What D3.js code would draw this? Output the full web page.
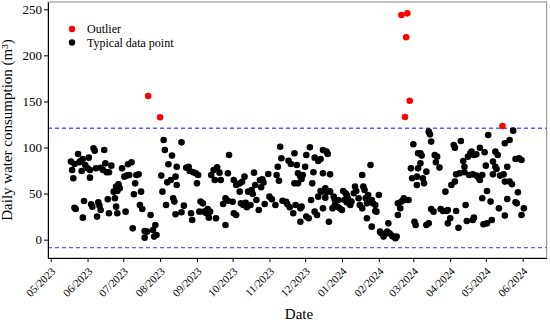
<!DOCTYPE html>
<html><head><meta charset="utf-8">
<script src="https://cdn.jsdelivr.net/npm/d3@7"></script>
<style>body{margin:0;background:#fff}svg{display:block}svg text{font-family:"Liberation Serif","Times New Roman",serif}</style>
</head><body><svg id="c" width="550" height="323"></svg>
<script>
// ---- data (days counted from startDate, daily consumption in m³) ----
const startDate = "2023-05-01";
const tickMonths = ["2023-05-01","2023-06-01","2023-07-01","2023-08-01","2023-09-01","2023-10-01","2023-11-01",
  "2023-12-01","2024-01-01","2024-02-01","2024-03-01","2024-04-01","2024-05-01","2024-06-01"];
const yTicks = [0, 50, 100, 150, 200, 250];
const thresholds = [120.9, -8.7];
const legendLabels = ["Outlier", "Typical data point"];
const xTitle = "Date";
const yTitle = "Daily water consumption (m³)";

const typicalDays = [
17,20,18,19,23,24,25,27,26,29,
32,31,33,33,36,37,45,38,42,46,
44,47,49,51,60,65,68,64,62,66,
72,74,71,70,76,57,55,53,56,58,
20,21,27,28,34,35,40,41,42,39,
48,49,54,55,56,63,75,77,69,84,
79,81,86,88,89,87,79,95,96,102,
99,106,93,98,101,105,94,97,103,104,
105,
110,114,116,117,120,122,124,106,123,112,
110,118,119,125,126,128,129,131,133,132,
135,137,140,142,138,143,134,139,147,149,
150,147,145,149,153,154,156,154,156,159,
161,163,159,160,162,164,165,168,166,169,
170,172,171,173,175,176,178,179,177,180,
183,184,186,189,190,191,192,193,194,195,
198,199,200,202,201,204,205,
205,207,208,210,211,212,208,206,210,211,
210,215,217,215,214,218,222,225,227,229,
232,233,221,229,235,220,222,224,227,228,
229,234,231,232,234,235,219,225,231,238,
239,239,237,241,242,243,245,246,248,249,
247,249,250,252,253,255,256,257,259,260,
262,263,264,265,266,267,269,262,270,271,
273,274,276,266,270,273,277,278,281,283,
284,285,287,288,290,291,280,292,294,292,
295,298,301,297,305,309,303,304,308,306,
307,
318,319,320,311,312,311,309,308,313,314,
316,323,325,324,327,339,340,345,344,341,
340,337,332,347,348,348,351,353,354,356,
358,361,365,355,352,358,360,363,361,366,
368,367,363,370,374,376,372,374,375,378,
372,381,382,384,386,388,382,386,389,391,
394,396,393,384,391,392,398,396,382,377,
320,322,328,330,333,334,336,341,343,334,
349,350,356,355,364,367,371,318,316];

const typicalValues = [
84.7,82.1,75.6,66.6,93.0,84.0,85.4,87.6,74.5,81.0,
89.0,77.4,75.6,67.3,99.1,96.6,97.3,77.4,78.1,82.8,
75.6,73.1,73.1,80.3,77.4,81.8,84.0,69.5,68.4,70.2,
70.2,70.9,61.1,49.2,52.1,60.0,57.5,52.1,52.8,55.7,
34.7,33.3,23.9,42.0,38.4,35.8,40.5,36.9,32.2,25.0,
43.8,28.6,44.9,35.8,28.6,30.4,37.6,33.3,12.3,26.8,
9.4,8.7,10.5,15.9,5.1,3.3,2.2,108.2,97.3,91.2,
81.8,79.2,69.5,62.2,64.8,68.4,52.1,37.6,44.9,41.3,
27.5,
105.6,78.1,79.2,74.5,73.1,72.0,70.2,59.3,61.1,36.9,
29.7,28.6,21.4,30.4,41.3,39.4,30.4,28.6,23.9,33.3,
70.2,75.6,78.5,72.7,64.7,64.7,30.4,23.1,15.9,72.0,
91.9,44.9,38.7,42.3,41.2,28.6,26.8,64.7,59.3,61.1,
62.9,68.4,52.1,39.4,37.6,40.1,35.1,37.6,52.1,53.9,
49.6,59.3,72.7,43.0,32.2,64.7,65.5,61.9,56.8,38.7,
71.3,46.7,43.8,37.6,70.2,79.2,64.0,100.9,88.3,42.3,
41.2,38.7,85.7,82.1,35.1,28.6,61.1,
93.7,81.0,72.0,68.4,65.9,70.2,61.1,37.6,34.0,35.8,
19.5,25.0,23.2,91.9,79.2,100.2,89.0,85.4,87.6,97.3,
95.5,93.0,73.1,72.0,70.9,61.1,30.4,26.8,52.8,52.1,
34.0,19.5,55.7,52.1,52.8,52.1,43.1,46.7,45.6,46.7,
43.1,37.6,34.0,35.8,43.1,34.0,32.2,52.8,50.3,48.5,
43.1,40.5,44.9,37.6,41.3,50.3,57.5,52.8,44.9,37.6,
34.0,57.5,53.9,44.9,39.4,48.5,81.0,70.2,43.1,39.4,
37.6,30.4,48.5,23.2,14.1,31.1,8.7,6.9,5.8,8.7,
17.7,6.9,4.4,3.3,1.5,3.3,3.3,39.4,34.0,26.8,
41.3,43.1,43.1,44.9,103.5,93.7,77.4,66.6,59.3,19.5,
15.9,
117.2,114.3,106.4,93.7,91.2,82.8,77.4,68.4,66.6,61.1,
73.8,91.9,90.1,84.0,78.2,102.7,99.8,107.1,72.0,70.9,
63.0,59.3,52.1,85.4,79.2,73.1,90.1,93.7,95.5,91.9,
92.6,99.8,94.8,70.9,70.2,69.5,67.3,70.2,64.8,80.3,
113.6,52.8,44.9,41.3,95.5,91.9,84.7,79.2,76.7,69.5,
70.9,70.9,63.0,79.2,63.0,60.1,104.6,108.2,118.3,87.6,
88.3,86.5,51.4,44.2,40.5,39.4,34.0,26.8,26.1,34.0,
33.3,30.4,33.3,31.1,31.1,32.2,23.2,31.1,13.0,17.7,
37.6,20.3,23.9,21.4,16.7,17.7,21.4,17.7,15.9];

const outlierDays = [82, 92, 295, 300, 299, 302, 298, 380];
const outlierValues = [155.9, 132.8, 243.8, 245.6, 219.6, 150.8, 133.1, 123.4];

// ---- drawing ----
const FONT = '"Liberation Serif", "Times New Roman", serif';
const parse = d3.timeParse("%Y-%m-%d");
const t0 = parse(startDate);
const toDate = d => d3.timeDay.offset(t0, d);
const typical = typicalDays.map((d, i) => ({date: toDate(d), value: typicalValues[i]}));
const outliers = outlierDays.map((d, i) => ({date: toDate(d), value: outlierValues[i]}));

const L = 48, R = 546.7, T = 2, B = 258;
const x = d3.scaleTime()
  .domain([d3.timeHour.offset(t0, -55), d3.timeHour.offset(t0, 10013)])
  .range([L, R]);
const y = d3.scaleLinear().domain([-19.9, 257.9]).range([B, T]);

const svg = d3.select("#c");
svg.append("rect").attr("width", 550).attr("height", 323).attr("fill", "#fff");

svg.append("rect").attr("x", L).attr("y", T).attr("width", R - L).attr("height", B - T)
  .attr("fill", "none").attr("stroke", "#8a8a8a").attr("stroke-width", 1);

svg.selectAll("line.thr").data(thresholds).join("line").attr("class", "thr")
  .attr("x1", L).attr("x2", R).attr("y1", d => y(d)).attr("y2", d => y(d))
  .attr("stroke", "#5f5fff").attr("stroke-width", 1.3).attr("stroke-dasharray", "4,3");

svg.append("g").selectAll("circle").data(typical).join("circle")
  .attr("cx", d => x(d.date)).attr("cy", d => y(d.value)).attr("r", 3.3).attr("fill", "#000");
svg.append("g").selectAll("circle").data(outliers).join("circle")
  .attr("cx", d => x(d.date)).attr("cy", d => y(d.value)).attr("r", 3.3).attr("fill", "#ff0000");

const xAxis = svg.append("g").attr("transform", `translate(0,${B})`)
  .call(d3.axisBottom(x).tickValues(tickMonths.map(parse)).tickFormat(d3.timeFormat("%m/%Y"))
    .tickSize(4).tickSizeOuter(0));
xAxis.attr("font-family", FONT).attr("font-size", 11);
xAxis.selectAll("text").attr("y", 0).attr("x", 0).attr("dy", null)
  .attr("text-anchor", "end").attr("transform", "translate(5,14) rotate(-45)")
  .style("font-family", FONT).style("font-size", "11px").attr("fill", "#000");

const yAxis = svg.append("g").attr("transform", `translate(${L},0)`)
  .call(d3.axisLeft(y).tickValues(yTicks).tickSize(4).tickPadding(2).tickSizeOuter(0));
yAxis.attr("font-family", FONT).attr("font-size", 13);
yAxis.selectAll("text").style("font-family", FONT).style("font-size", "13px").attr("fill", "#000");

svg.append("text").attr("x", 299).attr("y", 319).attr("text-anchor", "middle")
  .style("font-size", "15px").text(xTitle);
svg.append("text").attr("transform", "translate(12,130) rotate(-90)").attr("text-anchor", "middle")
  .style("font-size", "15px").text(yTitle);

const leg = svg.append("g");
const legColors = ["#ff0000", "#000"];
legendLabels.forEach((lab, i) => {
  leg.append("circle").attr("cx", 72).attr("cy", 29 + i * 13.5).attr("r", 3.2).attr("fill", legColors[i]);
  leg.append("text").attr("x", 87).attr("y", 33.3 + i * 13.5).style("font-size", "12px").text(lab);
});
</script></body></html>
